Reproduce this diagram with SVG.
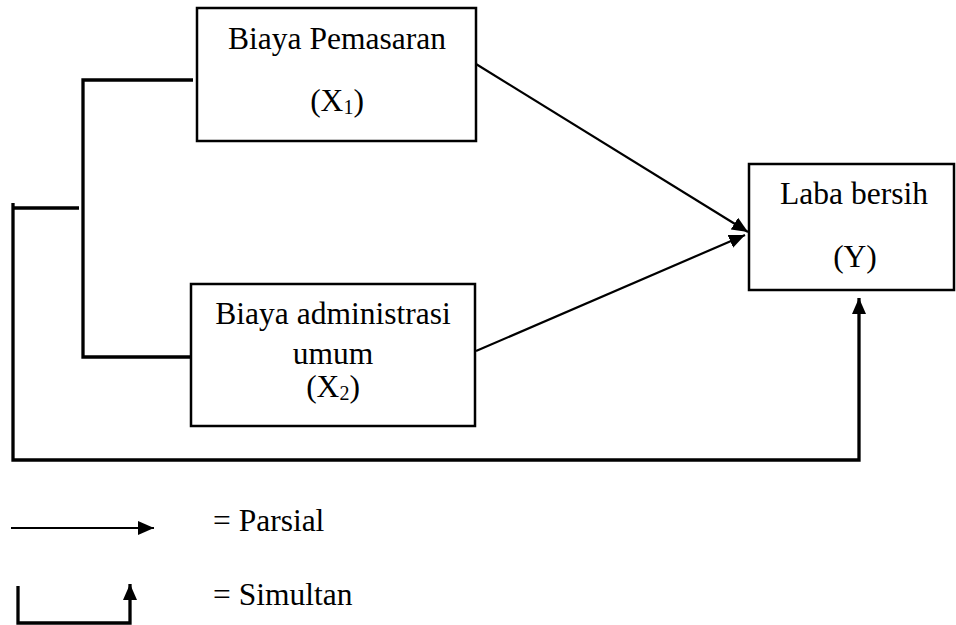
<svg xmlns="http://www.w3.org/2000/svg" width="956" height="625" viewBox="0 0 956 625">
<style>
.box{fill:#fff;stroke:#000;stroke-width:2.5}
.t{font-family:"Liberation Serif","Times New Roman",serif;font-size:31.5px;fill:#000}
.thin{fill:none;stroke:#000;stroke-width:2.2}
.thick{fill:none;stroke:#000;stroke-width:3.3}
</style>
<defs>
<marker id="ah" markerUnits="userSpaceOnUse" markerWidth="17" markerHeight="14" refX="16" refY="7" orient="auto">
<path d="M0,0 L16,7 L0,14 z" fill="#000"/>
</marker>
</defs>
<g id="connectors">
<path class="thick" d="M193,80 H83 V357 H192"/>
<path class="thick" d="M79,208 H13"/>
<path class="thick" d="M13,203 V460 H859 V298" marker-end="url(#ah)"/>
<line class="thin" x1="476" y1="64" x2="748" y2="232" marker-end="url(#ah)"/>
<line class="thin" x1="476" y1="351" x2="745" y2="235" marker-end="url(#ah)"/>
</g>
<g id="x1">
<rect class="box" x="197" y="8" width="279" height="133"/>
<text class="t" x="337" y="49" text-anchor="middle">Biaya Pemasaran</text>
<text class="t" x="337" y="111" text-anchor="middle">(X<tspan font-size="20" dy="3">1</tspan><tspan dy="-3">)</tspan></text>
</g>
<g id="x2">
<rect class="box" x="191" y="284" width="284" height="142"/>
<text class="t" x="333" y="324" text-anchor="middle">Biaya administrasi</text>
<text class="t" x="333" y="364" text-anchor="middle">umum</text>
<text class="t" x="333" y="397" text-anchor="middle">(X<tspan font-size="20" dy="3">2</tspan><tspan dy="-3">)</tspan></text>
</g>
<g id="y">
<rect class="box" x="749" y="164" width="205" height="126"/>
<text class="t" x="854" y="204" text-anchor="middle">Laba bersih</text>
<text class="t" x="855" y="267" text-anchor="middle">(Y)</text>
</g>
<g id="legend">
<line class="thin" x1="11" y1="528" x2="154" y2="528" marker-end="url(#ah)"/>
<text class="t" x="213" y="531">= Parsial</text>
<path class="thick" d="M18,586 V623 H130 V584" marker-end="url(#ah)"/>
<text class="t" x="213" y="605">= Simultan</text>
</g>
</svg>
